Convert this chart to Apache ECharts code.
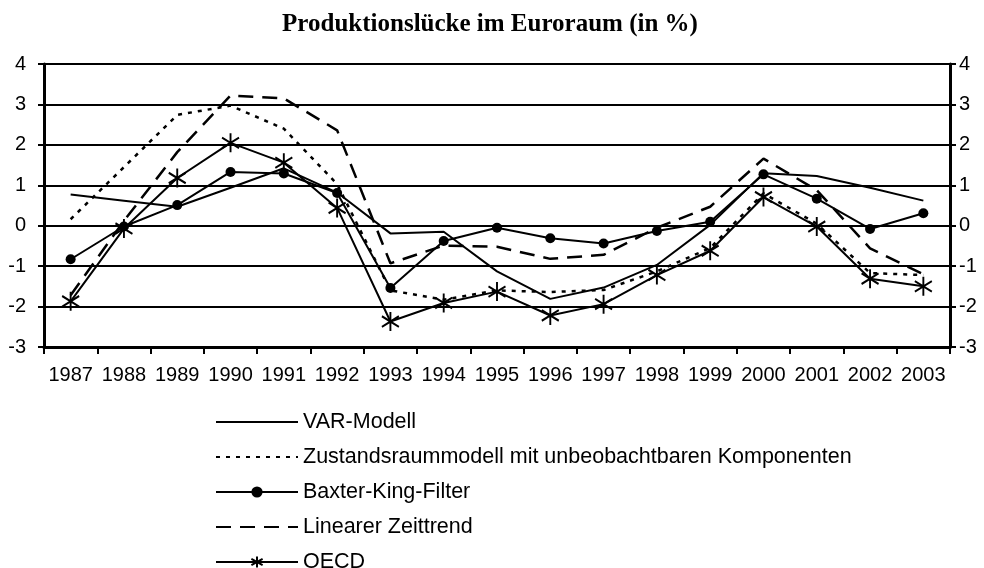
<!DOCTYPE html>
<html>
<head>
<meta charset="utf-8">
<script src="https://cdn.jsdelivr.net/npm/echarts@6/dist/echarts.min.js"></script>
<style>html,body{margin:0;padding:0;background:#fff}#c{width:984px;height:568px}</style>
</head>
<body>
<div id="c"></div>
<script>
const years = ['1987','1988','1989','1990','1991','1992','1993','1994','1995','1996','1997','1998','1999','2000','2001','2002','2003'];
const varModell = [0.77,0.62,0.47,0.94,1.42,0.82,-0.19,-0.15,-1.13,-1.81,-1.53,-0.97,0.02,1.3,1.23,0.94,0.62];
const zustandsraum = [0.16,1.45,2.74,2.97,2.4,1.03,-1.6,-1.83,-1.6,-1.64,-1.59,-1.13,-0.55,0.8,0.05,-1.17,-1.22];
const baxterKing = [-0.83,-0.02,0.51,1.33,1.29,0.81,-1.54,-0.38,-0.05,-0.31,-0.44,-0.13,0.1,1.27,0.67,-0.08,0.31];
const linTrend = [-1.72,0.12,1.82,3.22,3.15,2.36,-0.93,-0.49,-0.52,-0.82,-0.72,-0.05,0.47,1.66,0.88,-0.56,-1.2];
const oecd = [-1.87,-0.07,1.18,2.05,1.56,0.44,-2.37,-1.91,-1.63,-2.22,-1.94,-1.22,-0.62,0.71,-0.02,-1.31,-1.5];
const seriesNames = ['VAR-Modell','Zustandsraummodell mit unbeobachtbaren Komponenten','Baxter-King-Filter','Linearer Zeittrend','OECD'];

const FONT = '"Liberation Sans", Arial, sans-serif';
const star = 'path://M0,-9L0,9M-8,-5L8,5M-8,5L8,-5';
const chart = echarts.init(document.getElementById('c'));
const yAxisBase = (pos) => ({
  type: 'value', min: -3, max: 4, interval: 1, position: pos,
  axisLine: {show: true, lineStyle: {color: '#000', width: 3}},
  axisTick: {show: true, length: 6, lineStyle: {color: '#000', width: 2}},
  axisLabel: {color: '#000', fontFamily: FONT, fontSize: 20, margin: pos === 'left' ? 18 : 9},
  splitLine: {show: pos === 'left', lineStyle: {color: '#000', width: 2}}
});
const noSym = {opacity: 0};
chart.setOption({
  animation: false,
  backgroundColor: '#fff',
  title: {
    text: 'Produktionslücke im Euroraum (in %)',
    left: 485, top: 7, textAlign: 'center',
    textStyle: {fontFamily: '"Liberation Serif", "Times New Roman", serif', fontWeight: 'bold', fontSize: 25, color: '#000'}
  },
  grid: {left: 44, right: 34, top: 64, bottom: 221, containLabel: false},
  xAxis: {
    type: 'category', data: years, boundaryGap: true,
    axisLine: {onZero: false, lineStyle: {color: '#000', width: 3}},
    axisTick: {show: true, length: 7, lineStyle: {color: '#000', width: 2}},
    axisLabel: {color: '#000', fontFamily: FONT, fontSize: 20, margin: 18, interval: 0}
  },
  yAxis: [yAxisBase('left'), yAxisBase('right')],
  legend: {
    orient: 'vertical', left: 215, top: 411, height: 170, padding: 0,
    itemWidth: 82, itemHeight: 14, itemGap: 13,
    textStyle: {fontFamily: FONT, fontSize: 21.5, color: '#000', padding: [0,0,0,0]},
    data: [
      {name: seriesNames[0], itemStyle: noSym},
      {name: seriesNames[1], itemStyle: noSym},
      {name: seriesNames[2]},
      {name: seriesNames[3], itemStyle: noSym},
      {name: seriesNames[4]}
    ]
  },
  series: [
    {name: seriesNames[0], type: 'line', data: varModell, symbol: 'none', lineStyle: {color: '#000', width: 2}, itemStyle: {color: '#000'}},
    {name: seriesNames[1], type: 'line', data: zustandsraum, symbol: 'none', lineStyle: {color: '#000', width: 2.5, type: [4, 6]}, itemStyle: {color: '#000'}},
    {name: seriesNames[2], type: 'line', data: baxterKing, symbol: 'circle', symbolSize: 10, lineStyle: {color: '#000', width: 2}, itemStyle: {color: '#000'}},
    {name: seriesNames[3], type: 'line', data: linTrend, symbol: 'none', lineStyle: {color: '#000', width: 2.5, type: [15, 9]}, itemStyle: {color: '#000'}},
    {name: seriesNames[4], type: 'line', data: oecd, symbol: star, symbolSize: [17, 19], lineStyle: {color: '#000', width: 2}, itemStyle: {color: '#000', borderColor: '#000', borderWidth: 2}}
  ]
});
</script>
</body>
</html>
